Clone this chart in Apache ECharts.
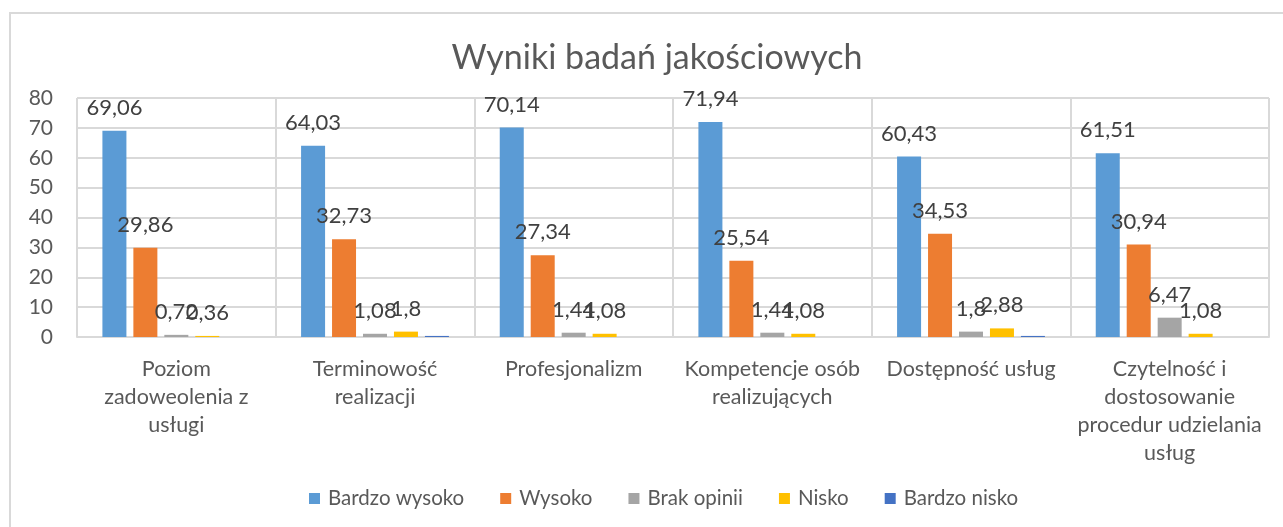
<!DOCTYPE html>
<html lang="pl">
<head>
<meta charset="utf-8">
<title>Wyniki badań jakościowych</title>
<script src="https://cdn.jsdelivr.net/npm/echarts@6/dist/echarts.min.js"></script>
<style>
    html, body { margin: 0; padding: 0; background: #fff; overflow: hidden; }
    #ramka {
        position: absolute; left: 9px; top: 12px;
        width: 1400px; height: 700px;
        border: 2px solid #d9d9d9;
    }
    #wykres { position: absolute; left: 0; top: 0; width: 1283px; height: 527px; }
</style>
</head>
<body>
<div id="ramka"></div>
<div id="wykres"></div>
<script>
// Dane
const kategorie = [
    'Poziom\nzadoweolenia z\nusługi',
    'Terminowość\nrealizacji',
    'Profesjonalizm',
    'Kompetencje osób\nrealizujących',
    'Dostępność usług',
    'Czytelność i\ndostosowanie\nprocedur udzielania\nusług'
];
const nazwySerii = ['Bardzo wysoko', 'Wysoko', 'Brak opinii', 'Nisko', 'Bardzo nisko'];
const bardzoWysoko = [69.06, 64.03, 70.14, 71.94, 60.43, 61.51];
const wysoko = [29.86, 32.73, 27.34, 25.54, 34.53, 30.94];
const brakOpinii = [0.72, 1.08, 1.44, 1.44, 1.8, 6.47];
const nisko = [0.36, 1.8, 1.08, 1.08, 2.88, 1.08];
const bardzoNisko = [0, 0.36, 0, 0, 0.36, 0];
const osY = { min: 0, max: 80, interval: 10 };

const kolory = ['#5b9bd5', '#ed7d31', '#a5a5a5', '#ffc000', '#4472c4'];
const wartosci = [bardzoWysoko, wysoko, brakOpinii, nisko, bardzoNisko];
const czcionka = 'Lato, "Noto Sans", sans-serif';

// Budowa serii słupkowych
const serie = wartosci.map((dane, i) => ({
    name: nazwySerii[i],
    type: 'bar',
    data: dane,
    barWidth: 24,
    barGap: '29%',
    itemStyle: { color: kolory[i] },
    label: {
        show: i < 4,
        position: 'top',
        distance: 12,
        color: '#404040',
        fontFamily: czcionka,
        fontSize: 22,
        formatter: p => String(p.value).replace('.', ',')
    },
    emphasis: { disabled: true }
}));

const chart = echarts.init(document.getElementById('wykres'));

chart.setOption({
    animation: false,
    title: {
        text: 'Wyniki badań jakościowych',
        left: 652,
        textAlign: 'center',
        top: 36,
        textStyle: { color: '#595959', fontFamily: czcionka, fontWeight: 'normal', fontSize: 34 }
    },
    legend: {
        data: nazwySerii,
        left: 304,
        top: 483,
        itemWidth: 11,
        itemHeight: 11,
        itemGap: 36,
        icon: 'rect',
        textStyle: { color: '#595959', fontFamily: czcionka, fontSize: 20.5, padding: [0, 0, 0, 3] }
    },
    grid: { left: 77, right: 14, top: 98, bottom: 190 },
    xAxis: {
        type: 'category',
        data: kategorie,
        axisLine: { lineStyle: { color: '#d9d9d9', width: 2 } },
        axisTick: { show: false },
        splitLine: { show: true, lineStyle: { color: '#d9d9d9', width: 2 } },
        axisLabel: {
            interval: 0,
            margin: 18,
            color: '#595959',
            fontFamily: czcionka,
            fontSize: 21.5,
            lineHeight: 28
        }
    },
    yAxis: {
        type: 'value',
        min: osY.min,
        max: osY.max,
        interval: osY.interval,
        axisLine: { show: false },
        axisTick: { show: false },
        splitLine: { lineStyle: { color: '#d9d9d9', width: 2 } },
        axisLabel: { margin: 24, color: '#595959', fontFamily: czcionka, fontSize: 21 }
    },
    series: serie
});
</script>
</body>
</html>
